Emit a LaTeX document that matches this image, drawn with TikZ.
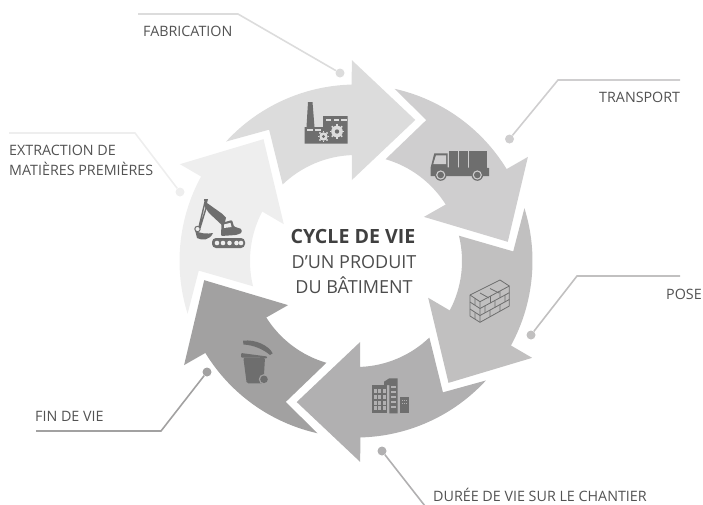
\documentclass[tikz,border=0pt]{standalone}
\usepackage{fontspec}
\setmainfont{Open Sans}
\definecolor{cfab}{HTML}{DCDCDC}
\definecolor{ctra}{HTML}{CFCECF}
\definecolor{cpos}{HTML}{C1C0C0}
\definecolor{cdur}{HTML}{B1B0B1}
\definecolor{cfin}{HTML}{A2A1A1}
\definecolor{cext}{HTML}{EEEEEE}
\definecolor{icon}{HTML}{6E6E6E}
\tikzset{
  leader/.style={line width=1.6pt},
  leaderdot/.style={circle,inner sep=0pt,minimum size=9pt},
  lab/.style={anchor=base west,inner sep=0pt,text=black!68,font=\fontsize{14.3}{16}\selectfont},
  titleb/.style={anchor=base,inner sep=0pt,text=black!75,font=\fontsize{19.6}{21}\selectfont\bfseries},
  titlel/.style={anchor=base,inner sep=0pt,text=black!70,font=\fontsize{18}{20}\selectfont},
  iconf/.style={fill=icon,draw=none},
  iconl/.style={draw=icon,line width=0.8pt,line join=round},
}
\begin{document}
\begin{tikzpicture}[x=1pt,y=-1pt]
\useasboundingbox (0,0) rectangle (703,504);
% arrows
\foreach \i/\c in {0/cfab,1/ctra,2/cpos,3/cdur,4/cfin,5/cext}{
  \begin{scope}[shift={(356,261)},rotate=-60*\i]
    \fill[\c] (137.4:176.5pt) arc[start angle=137.4,end angle=91.4,radius=176.5pt]
      -- (91.2:201pt) -- (67.2:153pt) -- (93:81pt) -- (92.2:106pt)
      arc[start angle=92.2,end angle=133.8,radius=106pt]
      -- (123.5:157.5pt) -- cycle;
  \end{scope}
}
% leaders
\node[leaderdot,fill=cfab] (dfab) at (340,73) {};
\coordinate (kfab) at (238,14); \coordinate (efab) at (138,14);
\draw[leader,cfab] (dfab) -- (kfab) -- (efab);
\node[leaderdot,fill=ctra] (dtra) at (509.5,139) {};
\coordinate (ktra) at (558,80); \coordinate (etra) at (680,80);
\draw[leader,ctra] (dtra) -- (ktra) -- (etra);
\node[leaderdot,fill=cpos] (dpos) at (531,335) {};
\coordinate (kpos) at (577,276); \coordinate (epos) at (680,276);
\draw[leader,cpos] (dpos) -- (kpos) -- (epos);
\node[leaderdot,fill=cdur] (ddur) at (382,451) {};
\coordinate (edur) at (425,506);
\draw[leader,cdur] (ddur) -- (edur);
\node[leaderdot,fill=cfin] (dfin) at (207,372) {};
\coordinate (kfin) at (161,431); \coordinate (efin) at (36,431);
\draw[leader,cfin] (dfin) -- (kfin) -- (efin);
\node[leaderdot,fill=cext] (dext) at (180,192) {};
\coordinate (kext) at (135,133); \coordinate (eext) at (9,133);
\draw[leader,cext] (dext) -- (kext) -- (eext);
% labels
\node[lab] (lfab) at (143,36) {FABRICATION};
\node[lab] (ltra) at (599,102) {TRANSPORT};
\node[lab] (lpos) at (666,299) {POSE};
\node[lab] (ldur) at (433,501.5) {DURÉE DE VIE SUR LE CHANTIER};
\node[lab] (lfin) at (35,421.5) {FIN DE VIE};
\node[lab] (lext1) at (9,155) {EXTRACTION DE};
\node[lab] (lext2) at (9,175) {MATIÈRES PREMIÈRES};
\node[titleb] (t1) at (353,243) {CYCLE DE VIE};
\node[titlel] (t2) at (354,268) {D’UN PRODUIT};
\node[titlel] (t3) at (354,293) {DU BÂTIMENT};
% factory
\fill[icon] (308,102) -- (312.5,102) -- (314.5,127) -- (323,127) -- (323,116) -- (347.5,116) -- (347.5,143.5) -- (304.5,143.5) -- (304.5,127) -- (306.5,127) -- cycle;
\foreach \x in {325.5,333.5,341}{\fill[cfab] (\x,118.5) rectangle +(5.5,2);}
\foreach \x in {307,315}{\fill[cfab] (\x,128.5) rectangle +(5.5,2);}
\foreach \g/\px/\py/\r in {a/323.5/136.5/4.2,b/337/131.5/5.8}{
  \fill[cfab] (\px,\py) circle[radius=\r pt];
  \foreach \a in {0,45,...,315}{\draw[cfab,line width=1.7pt] (\px,\py) ++(\a:\r pt) -- ++(\a:1.6pt);}
  \fill[icon] (\px,\py) circle[radius=0.38*\r pt];
}
% truck
\fill[icon] (449,150.5) rectangle (457.7,167.5);
\fill[icon] (458.7,150.5) rectangle (467.7,167.5);
\fill[icon] (469,150.5) rectangle (487.3,167.5);
\fill[icon] (430.7,167.3) -- (434.3,153.3) -- (447.7,153.3) -- (447.7,167.3) -- (489,168) -- (489,176) -- (430.7,176) -- cycle;
\fill[ctra] (433.3,164) -- (436,155.3) -- (446,155.3) -- (446,164) -- cycle;
\foreach \x in {440.7,477.3}{
  \fill[icon] (\x,175) circle[radius=5.8pt];
  \fill[ctra] (\x,175) circle[radius=4.6pt];
  \fill[icon] (\x,175) circle[radius=3.3pt];
}
% bricks
\draw[iconl] (470,295) -- (500,280) -- (509.3,286) -- (509.3,306) -- (480,322.3) -- (470,316) -- cycle;
\draw[iconl] (470,295) -- (480,301.7) -- (509.3,286) (480,301.7) -- (480,322.3);
\draw[iconl] (470,302) -- (480,308.5) -- (509.3,292.7)
             (470,309) -- (480,315.5) -- (509.3,299.5);
\draw[iconl] (475,298.3) -- (475,305.3) (475,312.3) -- (475,319)
             (490.5,296) -- (490.5,303) (500,291) -- (500,298) (485,305.5) -- (485,312.5)
             (495,300.5) -- (495,307.5) (505,295) -- (505,302)
             (490,310) -- (490,316.7) (500,304) -- (500,311)
             (490,288.5) -- (499,293) (480,293) -- (489,298);
% buildings
\fill[icon] (372,385) rectangle (387.3,413.3);
\fill[icon] (384,381.7) -- (389.3,378.3) -- (397.7,378.3) -- (397.7,413.3) -- (389.3,413.3) -- (389.3,385) -- (384,385) -- cycle;
\fill[icon] (400,397.3) rectangle (408.7,413.3);
\foreach \y in {389,394.8,400.6,406.4}{\foreach \x in {374,378.4,382.8}{\fill[cdur] (\x,\y) rectangle +(3,4);}}
\foreach \y in {386,391,396,401,406}{\fill[cdur] (391,\y) rectangle +(5,1.5);}
\foreach \y in {400,403}{\foreach \x in {401.5,403.7,405.9}{\fill[cdur] (\x,\y) rectangle +(1.2,1.2);}}
% bin
\fill[icon] (243,340.7) .. controls (256,339) and (269,346) .. (272.7,353.3) -- (270,355) .. controls (263,349) and (253,345) .. (243.5,344.5) -- cycle;
\fill[icon,rounded corners=1pt] (241,353) -- (267.3,356.5) -- (267,358.5) -- (258,357.5) -- (241,357.5) -- cycle;
\fill[icon,rounded corners=1.5pt] (243.3,357.5) -- (265,357.5) -- (263.5,383.3) -- (246.7,383.3) -- cycle;
\fill[cfin] (264,379.3) circle[radius=5.2pt];
\fill[icon] (264,379.3) circle[radius=3.8pt];
% excavator
\fill[icon] (204,199) -- (208,199) -- (207,203) -- (222.5,214) -- (226,217.5) -- (224,227) -- (209,213) -- (205,207) -- cycle;
\draw[icon,line width=1.4pt] (205,202) -- (199,227) (207,205) -- (200,228);
\fill[icon] (195,230) .. controls (199,234) and (208,234) .. (213,233) .. controls (210,240) and (202,241) .. (197,238) -- cycle;
\fill[cext] (198,229) circle[radius=1.3pt];
\draw[icon,line width=1pt] (197.5,229) circle[radius=2.7pt];
\fill[icon,rounded corners=1pt] (221.5,223) -- (232,220) -- (234,226.5) -- (241.5,229) -- (241.5,233) -- (236,235) -- (221,236) -- cycle;
\fill[cext] (224,224.5) -- (230.5,222.8) -- (231.5,227) -- (224,228) -- cycle;
\fill[icon,rounded corners=4pt] (212,238) rectangle (245,248);
\foreach \x in {217,223,229.5,236.5,241}{\fill[cext] (\x,243) circle[radius=2.3pt];}
\end{tikzpicture}
\end{document}
